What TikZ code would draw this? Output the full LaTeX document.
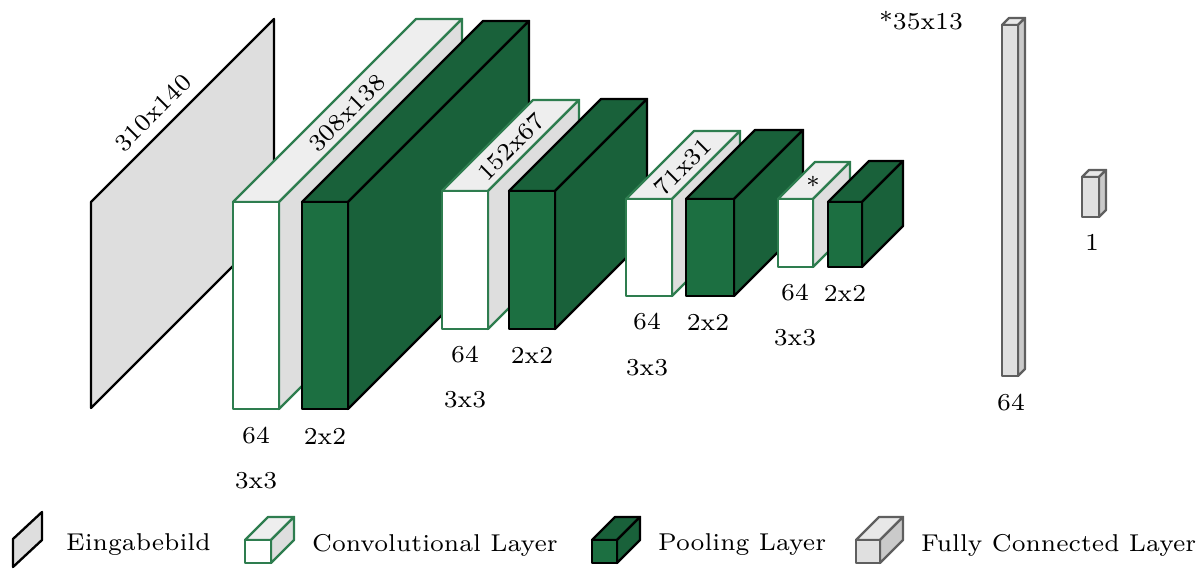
\documentclass[tikz,border=0pt]{standalone}
\usetikzlibrary{calc}
\definecolor{convgreen}{HTML}{2E7D4F}
\definecolor{convtop}{HTML}{EEEEEE}
\definecolor{convside}{HTML}{DEDEDE}
\definecolor{poolfront}{HTML}{1C6F41}
\definecolor{poolside}{HTML}{19613A}
\definecolor{fcfront}{HTML}{E0E0E0}
\definecolor{fctop}{HTML}{E8E8E8}
\definecolor{fcside}{HTML}{CACACA}
\definecolor{fcstroke}{HTML}{5F5F5F}
\definecolor{inputfill}{HTML}{DEDEDE}
% #1 stroke, #2 front fill, #3 top fill, #4 side fill, #5 x, #6 y, #7 w, #8 h, #9 depth
\newcommand{\lbox}[9]{%
  \filldraw[draw=#1,fill=#3] (#5,#6) -- ++(#9,-#9) -- ++(#7,0) -- ({#5+#7},#6) -- cycle;
  \filldraw[draw=#1,fill=#4] ({#5+#7},#6) -- ++(#9,-#9) -- ++(0,#8) -- ({#5+#7},{#6+#8}) -- cycle;
  \filldraw[draw=#1,fill=#2] (#5,#6) rectangle ({#5+#7},{#6+#8});
}
\begin{document}
\begin{tikzpicture}[x=0.3pt,y=-0.3pt,line width=0.7pt,line join=round,
  lbl/.style={font=\fontsize{7.3}{8.6}\selectfont,inner sep=0pt,text=black}]
\useasboundingbox (0,0) rectangle (1199,569);
% input image
\filldraw[draw=black,fill=inputfill] (91,202) -- (274,19) -- (274,225) -- (91,408) -- cycle;
\node[lbl,rotate=45] (tin) at (153,113) {310x140};
% conv1 / pool1
\lbox{convgreen}{white}{convtop}{convside}{233}{202}{46}{207}{183}
\lbox{black}{poolfront}{poolside}{poolside}{302}{202}{46}{207}{181}
\node[lbl,rotate=45] (t1) at (347,113) {308x138};
\node[lbl] (c1a) at (256,436) {64};
\node[lbl] (c1b) at (256,481) {3x3};
\node[lbl] (p1) at (325,436) {2x2};
% conv2 / pool2
\lbox{convgreen}{white}{convtop}{convside}{442}{191}{46}{138}{91}
\lbox{black}{poolfront}{poolside}{poolside}{509}{191}{46}{138}{92}
\node[lbl,rotate=45] (t2) at (511,147) {152x67};
\node[lbl] (c2a) at (465,355) {64};
\node[lbl] (c2b) at (465,400) {3x3};
\node[lbl] (p2) at (532,355) {2x2};
% conv3 / pool3
\lbox{convgreen}{white}{convtop}{convside}{626}{199}{46}{97}{68}
\lbox{black}{poolfront}{poolside}{poolside}{686}{199}{48}{97}{69}
\node[lbl,rotate=45] (t3) at (683,167) {71x31};
\node[lbl] (c3a) at (647,322) {64};
\node[lbl] (c3b) at (647,368) {3x3};
\node[lbl] (p3) at (708,322) {2x2};
% conv4 / pool4
\lbox{convgreen}{white}{convtop}{convside}{778}{199}{35}{68}{37}
\lbox{black}{poolfront}{poolside}{poolside}{828}{202}{34}{65}{41}
\node[lbl] (t4) at (813,185) {*};
\node[lbl] (c4a) at (795,293) {64};
\node[lbl] (c4b) at (795,338) {3x3};
\node[lbl] (p4) at (845,293) {2x2};
\node[lbl] (star) at (921,21) {*35x13};
% fully connected
\lbox{fcstroke}{fcfront}{fctop}{fcside}{1002}{25}{16}{351}{7}
\node[lbl] (f1) at (1011,403) {64};
\lbox{fcstroke}{fcfront}{fctop}{fcside}{1082}{177}{17}{40}{7}
\node[lbl] (f2) at (1092,242) {1};
% legend
\filldraw[draw=black,fill=inputfill] (13,539) -- (42,512) -- (42,540) -- (13,567) -- cycle;
\node[lbl,anchor=west] (l1) at (65,545) {Eingabebild};
\lbox{convgreen}{white}{convtop}{convside}{245}{540}{26}{23}{23}
\node[lbl,anchor=west] (l2) at (311,545) {Convolutional Layer};
\lbox{black}{poolfront}{poolside}{poolside}{592}{540}{25}{23}{23}
\node[lbl,anchor=west] (l3) at (657,545) {Pooling Layer};
\lbox{fcstroke}{fcfront}{fctop}{fcside}{856}{540}{24}{23}{23}
\node[lbl,anchor=west] (l4) at (920,545) {Fully Connected Layer};
\end{tikzpicture}
\end{document}
